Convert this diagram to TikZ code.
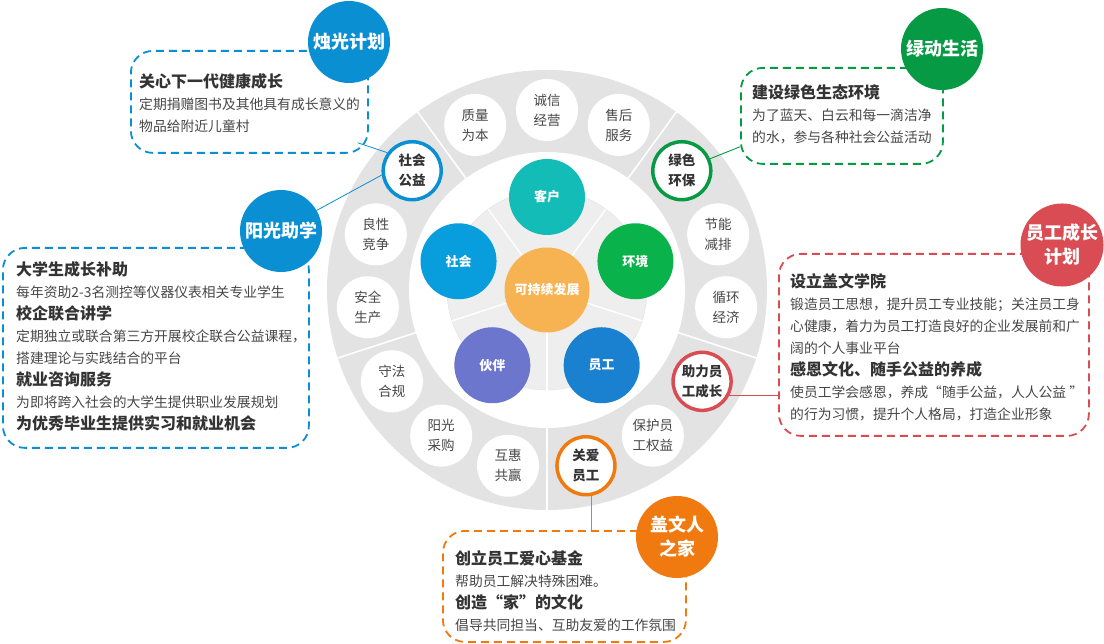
\documentclass[tikz,border=0pt]{standalone}
\usepackage{fontspec}
\setmainfont{Noto Sans CJK SC}
\usepackage{xcolor}
\usepackage{tikz}
\usetikzlibrary{positioning,calc}
\definecolor{ringgrey}{HTML}{E3E3E3}
\definecolor{discgrey}{HTML}{EEEEEE}
\definecolor{txtdark}{HTML}{333333}
\definecolor{txtbody}{HTML}{474747}
\definecolor{zgblue}{HTML}{0A8FD3}
\definecolor{ldgreen}{HTML}{079A45}
\definecolor{ycred}{HTML}{D94C53}
\definecolor{gworange}{HTML}{F07A10}
\definecolor{khteal}{HTML}{14BCB7}
\definecolor{hjgreen}{HTML}{0AB24C}
\definecolor{ygblue}{HTML}{1A80D0}
\definecolor{hbpurple}{HTML}{6B76CC}
\definecolor{shsky}{HTML}{089DDC}
\definecolor{kcorange}{HTML}{F7B351}
\newcommand{\boxhead}[1]{{\fontsize{16}{22}\selectfont\bfseries\color{txtdark}#1}}

\begin{document}
\begin{tikzpicture}[x=1pt,y=-1pt,
   ringnd/.style={circle,fill=white,minimum size=62pt,inner sep=0pt,align=center,text=txtbody,font=\fontsize{13.5}{20}\selectfont},
   hlnd/.style={ringnd,draw=#1,line width=3.5pt,minimum size=58pt,text=txtdark,font=\bfseries\fontsize{13.5}{20}\selectfont},
   corend/.style={circle,fill=#1,minimum size=76pt,inner sep=0pt,text=white,font=\bfseries\fontsize{13}{16}\selectfont},
   tagnd/.style={circle,fill=#1,minimum size=82pt,inner sep=0pt,align=center,text=white,font=\bfseries\fontsize{18}{24}\selectfont},
   boxnd/.style={draw=#1,dash pattern=on 8pt off 5pt,line width=1.8pt,rounded corners=22pt,inner sep=0pt,anchor=north west},
   txtnd/.style={anchor=north west,inner sep=0pt,align=left,text=txtbody,font=\fontsize{13.8}{22}\selectfont}]
  \fill[white] (0,0) rectangle (1104,644);
  \useasboundingbox (0,0) rectangle (1104,644);
  \coordinate (C) at (547,290);
  % wheel
  \fill[ringgrey] (C) circle (220);
  \fill[white] (C) circle (138);
  \filldraw[fill=discgrey,draw=ringgrey] (C) circle (100);
  \foreach \a in {54,126,198,270,342}{
    \draw[white,line width=1.6pt] ($(C)+({-\a}:138)$) -- ($(C)+({-\a}:221)$);
    \draw[white,line width=1.4pt] (C) -- ($(C)+({-\a}:100)$);
  }
  \node[corend=kcorange,minimum size=85pt] (core) at (C) {可持续发展};
  \foreach \t/\a/\c [count=\i] in {客户/90/khteal,环境/18/hjgreen,员工/-54/ygblue,伙伴/-126/hbpurple,社会/162/shsky}
    \node[corend=\c] (pt\i) at ($(C)+({-\a}:93)$) {\t};
  \foreach \t/\a [count=\i] in {质量\\为本/113.5,诚信\\经营/90,售后\\服务/66.5,节能\\减排/18,循环\\经济/-5.5,
      保护员\\工权益/-54,互惠\\共赢/-102.5,阳光\\采购/-126,守法\\合规/-149.5,安全\\生产/185.5,良性\\竞争/162}
    \node[ringnd] (rg\i) at ($(C)+({-\a}:180)$) {\t};
  \node[hlnd=zgblue] (shgy) at ($(C)+(-138.5:180)$) {社会\\公益};
  \node[hlnd=ldgreen] (lshb) at ($(C)+(-41.5:180)$) {绿色\\环保};
  \node[hlnd=ycred] (zlyg) at ($(C)+(30.5:180)$) {助力员\\工成长};
  \node[hlnd=gworange] (gayg) at ($(C)+(77.5:180)$) {关爱\\员工};
  % callout boxes
  \node[boxnd=zgblue,minimum width=237pt,minimum height=102pt] (zgbox) at (130,50) {};
  \node[txtnd] (zgtxt) at ([shift={(9,23)}]zgbox.north west) {\boxhead{关心下一代健康成长}\\
     定期捐赠图书及其他具有成长意义的\\物品给附近儿童村};
  \node[boxnd=zgblue,minimum width=306pt,minimum height=200pt] (ygbox) at (2,247) {};
  \node[txtnd] (ygtxt) at ([shift={(14,14)}]ygbox.north west) {\boxhead{大学生成长补助}\\
     每年资助2-3名测控等仪器仪表相关专业学生\\
     \boxhead{校企联合讲学}\\
     定期独立或联合第三方开展校企联合公益课程，\\搭建理论与实践结合的平台\\
     \boxhead{就业咨询服务}\\
     为即将跨入社会的大学生提供职业发展规划\\
     \boxhead{为优秀毕业生提供实习和就业机会}};
  \node[boxnd=ldgreen,minimum width=202pt,minimum height=96pt] (ldbox) at (740,67) {};
  \node[txtnd] (ldtxt) at ([shift={(12,17)}]ldbox.north west) {\boxhead{建设绿色生态环境}\\
     为了蓝天、白云和每一滴洁净\\的水，参与各种社会公益活动};
  \node[boxnd=ycred,minimum width=310pt,minimum height=182pt] (ycbox) at (778,253) {};
  \node[txtnd] (yctxt) at ([shift={(12,20)}]ycbox.north west) {\boxhead{设立盖文学院}\\
     锻造员工思想，提升员工专业技能；关注员工身\\
     心健康，着力为员工打造良好的企业发展前和广\\
     阔的个人事业平台\\
     \boxhead{感恩文化、随手公益的养成}\\
     使员工学会感恩，养成“随手公益，人人公益 ”\\
     的行为习惯，提升个人格局，打造企业形象};
  \node[boxnd=gworange,minimum width=243pt,minimum height=111pt] (gwbox) at (442,530) {};
  \node[txtnd] (gwtxt) at ([shift={(13,20)}]gwbox.north west) {\boxhead{创立员工爱心基金}\\
     帮助员工解决特殊困难。\\
     \boxhead{创造“家”的文化}\\
     倡导共同担当、互助友爱的工作氛围};
  % tags
  \node[tagnd=zgblue] (zgtag) at (349,42) {烛光计划};
  \node[tagnd=zgblue] (ygtag) at (281,231) {阳光助学};
  \node[tagnd=ldgreen] (ldtag) at (942,49) {绿动生活};
  \node[tagnd=ycred] (yctag) at (1062,245) {员工成长\\计划};
  \node[tagnd=gworange] (gwtag) at (677,537) {盖文人\\之家};
  % links
  \draw[zgblue,line width=0.8pt] ([shift={(-11,-11)}]zgbox.south east) -- (shgy.144);
  \draw[zgblue,line width=0.8pt] (ygtag.30) -- (shgy.188);
  \draw[ldgreen,line width=0.9pt] (lshb.23) -- ([shift={(0,-18)}]ldbox.south west);
  \draw[ycred,line width=0.9pt] (zlyg.-27) -- (zlyg.-27 -| ycbox.west);
  \draw[gworange,line width=1pt] (gayg.-80) -- (gayg.-80 |- gwbox.north);
\end{tikzpicture}
\end{document}
